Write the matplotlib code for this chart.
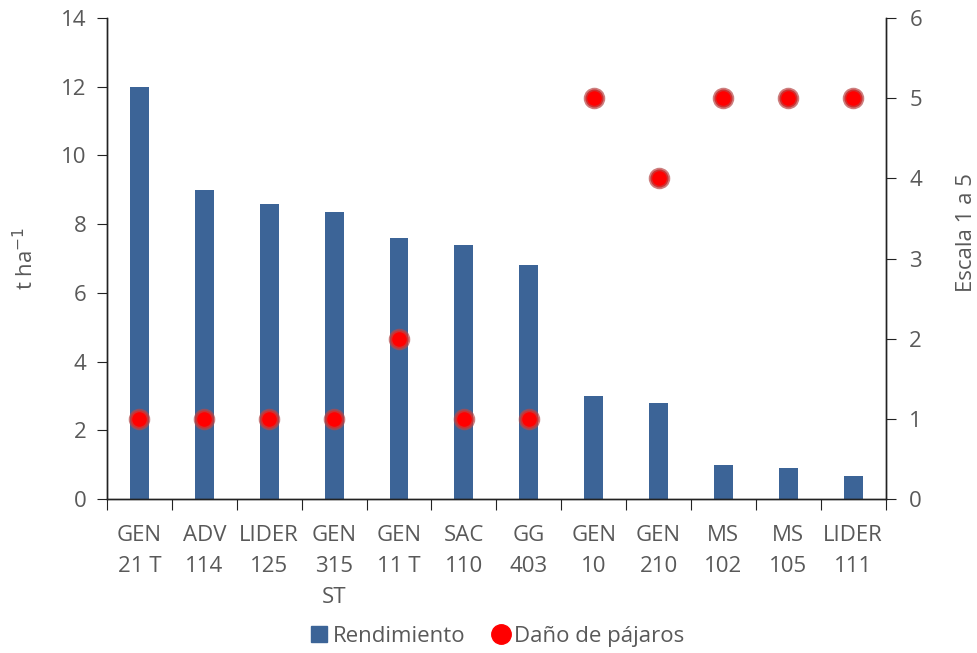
import numpy as np
import matplotlib
matplotlib.use('Agg')
import matplotlib.pyplot as plt
from matplotlib.lines import Line2D

plt.rcParams['font.family'] = ['Open Sans', 'DejaVu Sans']

# data
hibridos = ['GEN\n21 T', 'ADV\n114', 'LIDER\n125', 'GEN\n315\nST', 'GEN\n11 T',
            'SAC\n110', 'GG\n403', 'GEN\n10', 'GEN\n210', 'MS\n102', 'MS\n105', 'LIDER\n111']
rendimiento = [12.0, 9.0, 8.6, 8.35, 7.6, 7.4, 6.8, 3.0, 2.8, 0.98, 0.9, 0.68]
dano_pajaros = [1, 1, 1, 1, 2, 1, 1, 5, 4, 5, 5, 5]

bar_color = '#3C6497'
text_color = '#595959'
edge_col = (0.72, 0.28, 0.28, 0.7)
fs = 16

fig = plt.figure(figsize=(9.77, 6.53), dpi=100)
ax = fig.add_axes([0.1095, 0.2358, 0.797, 0.7366])
ax2 = ax.twinx()

x = np.arange(len(hibridos))
ax.bar(x, rendimiento, width=0.29, color=bar_color, zorder=2)
ax2.plot(x, dano_pajaros, linestyle='none', marker='o', markersize=13,
         markerfacecolor='#FF0000', markeredgecolor=edge_col, markeredgewidth=2.5, zorder=3)

ax.set_xlim(-0.5, len(hibridos) - 0.5)
ax.set_ylim(0, 14)
ax.set_yticks(np.arange(0, 15, 2))
ax2.set_ylim(0, 6)
ax2.set_yticks(np.arange(0, 7, 1))

# category ticks at boundaries, labels centered
ax.set_xticks(np.arange(-0.5, len(hibridos), 1))
ax.set_xticklabels([])
ax.set_xticks(x, minor=True)
ax.set_xticklabels(hibridos, minor=True, fontsize=fs, color=text_color, linespacing=1.6,
                   va='top')
ax.tick_params(axis='x', which='minor', length=0, pad=19)
ax.tick_params(axis='x', which='major', length=8, direction='out', color='#222222')

ax.tick_params(axis='y', labelsize=fs, labelcolor=text_color, length=7, color='#222222', pad=8)
ax2.tick_params(axis='y', labelsize=fs, labelcolor=text_color, length=7, color='#222222', pad=10)

for a in (ax, ax2):
    a.spines['top'].set_visible(False)
    for s in ('left', 'right', 'bottom'):
        a.spines[s].set_color('#222222')
        a.spines[s].set_linewidth(1.0)

ax.set_ylabel('t ha$^{-1}$', fontsize=fs, color=text_color, labelpad=16)
ax2.set_ylabel('Escala 1 a 5', fontsize=fs, color=text_color, rotation=90)
ax2.yaxis.set_label_coords(1.09, 0.555)

handles = [Line2D([], [], linestyle='none', marker='s', markersize=11, color=bar_color),
           Line2D([], [], linestyle='none', marker='o', markersize=14, markerfacecolor='#FF0000',
                  markeredgecolor='#FF0000')]
leg = fig.legend(handles, ['Rendimiento', 'Daño de pájaros'], loc='center',
                 bbox_to_anchor=(0.508, 0.025), ncol=2, frameon=False, fontsize=fs,
                 handletextpad=0.1, columnspacing=1.1, handlelength=1.0)
for t in leg.get_texts():
    t.set_color(text_color)

fig.savefig('out.png', dpi=100)
